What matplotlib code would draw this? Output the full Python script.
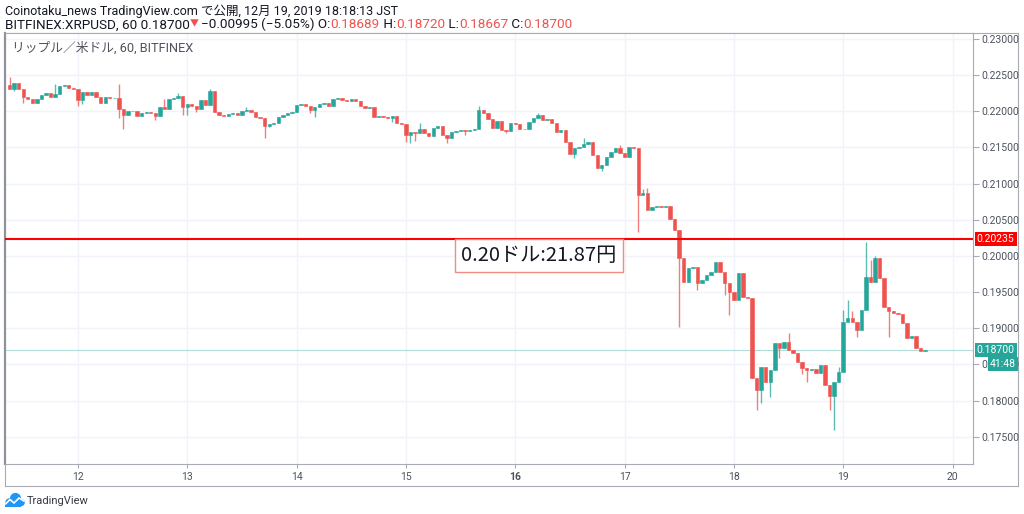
import numpy as np
import matplotlib.pyplot as plt
import matplotlib.transforms as mtransforms
from matplotlib.patches import Circle, Rectangle

plt.rcParams['font.family'] = ['Roboto', 'Noto Sans CJK JP', 'DejaVu Sans']

# BITFINEX XRP/USD, 1h candles from 11 Dec 09:00 to 19 Dec 18:00 (JST)
first_hour = -15            # hours relative to 12 Dec 00:00
first_open = 0.2236
closes = [
    0.2231, 0.2239, 0.2231, 0.2220, 0.2217, 0.2212, 0.2217, 0.2223, 0.2225, 0.2220,
    0.2224, 0.2235, 0.2236, 0.2232, 0.2231, 0.2216, 0.2227, 0.2223, 0.2227, 0.2220,
    0.2212, 0.2220, 0.2218, 0.2219, 0.2203, 0.2195, 0.2200, 0.2201, 0.2194, 0.2198,
    0.2199, 0.2198, 0.2194, 0.2206, 0.2203, 0.2217, 0.2218, 0.2221, 0.2206, 0.2210,
    0.2207, 0.2203, 0.2216, 0.2209, 0.2228, 0.2199, 0.2195, 0.2194, 0.2196, 0.2197,
    0.2195, 0.2200, 0.2202, 0.2199, 0.2192, 0.2191, 0.2180, 0.2182, 0.2184, 0.2192,
    0.2195, 0.2198, 0.2199, 0.2209, 0.2210, 0.2207, 0.2202, 0.2206, 0.2210, 0.2211,
    0.2207, 0.2217, 0.2218, 0.2216, 0.2214, 0.2217, 0.2214, 0.2207, 0.2205, 0.2206,
    0.2192, 0.2193, 0.2192, 0.2191, 0.2193, 0.2184, 0.2182, 0.2167, 0.2171, 0.2170,
    0.2175, 0.2170, 0.2166, 0.2177, 0.2180, 0.2167, 0.2163, 0.2171, 0.2173, 0.2174,
    0.2173, 0.2174, 0.2175, 0.2202, 0.2198, 0.2189, 0.2177, 0.2187, 0.2174, 0.2173,
    0.2184, 0.2182, 0.2176, 0.2175, 0.2185, 0.2191, 0.2195, 0.2188, 0.2189, 0.2184,
    0.2171, 0.2174, 0.2158, 0.2141, 0.2149, 0.2151, 0.2155, 0.2158, 0.2140, 0.2122,
    0.2126, 0.2137, 0.2144, 0.2149, 0.2142, 0.2137, 0.2151, 0.2149, 0.2084, 0.2087,
    0.2063, 0.2068, 0.2069, 0.2068, 0.2069, 0.2051, 0.2036, 0.1997, 0.1964, 0.1983,
    0.1985, 0.1962, 0.1967, 0.1974, 0.1978, 0.1991, 0.1978, 0.1962, 0.1950, 0.1939,
    0.1976, 0.1943, 0.1942, 0.1831, 0.1815, 0.1846, 0.1826, 0.1842, 0.1880, 0.1873,
    0.1881, 0.1870, 0.1866, 0.1853, 0.1845, 0.1842, 0.1844, 0.1838, 0.1849, 0.1821,
    0.1806, 0.1826, 0.1839, 0.1909, 0.1914, 0.1909, 0.1898, 0.1925, 0.1971, 0.1964,
    0.1997, 0.1969, 0.1929, 0.1924, 0.1921, 0.1920, 0.1907, 0.1886, 0.1889, 0.1873,
    0.1869, 0.1870,
]
# wick tips that stick out clearly past the body (candle index -> price)
wick_high = {0: 0.2247, 10: 0.2238, 24: 0.2238, 34: 0.2217, 37: 0.2225, 44: 0.2231,
             52: 0.2206, 90: 0.2184, 103: 0.2207, 116: 0.2198, 126: 0.2163, 134: 0.2153,
             139: 0.2093, 140: 0.2094, 171: 0.1893, 182: 0.1846, 183: 0.1925, 184: 0.1939,
             185: 0.1924, 188: 0.2019, 189: 0.1994, 190: 0.2000}
wick_low = {1: 0.2228, 3: 0.2211, 15: 0.2208, 16: 0.2210, 24: 0.2191, 25: 0.2176,
            32: 0.2188, 38: 0.2195, 39: 0.2195, 41: 0.2199, 56: 0.2163, 57: 0.2178,
            66: 0.2198, 67: 0.2192, 84: 0.2185, 87: 0.2158, 88: 0.2156, 89: 0.2159,
            96: 0.2156, 100: 0.2167, 109: 0.2170, 124: 0.2135, 130: 0.2117, 138: 0.2033,
            147: 0.1902, 151: 0.1953, 157: 0.1946, 158: 0.1918, 164: 0.1787, 165: 0.1797,
            167: 0.1805, 169: 0.1859, 174: 0.1837, 175: 0.1826, 180: 0.1787, 181: 0.1759,
            186: 0.1888, 193: 0.1888}

day_hours = [0, 24, 48, 72, 96, 120, 144, 168, 192]
day_labels = ['12', '13', '14', '15', '16', '17', '18', '19', '20']
price_ticks = [0.175, 0.180, 0.185, 0.190, 0.195, 0.200,
               0.205, 0.210, 0.215, 0.220, 0.225, 0.230]

level_price = 0.20235
level_note = '0.20ドル:21.87円'
last_price = 0.18700
countdown = '41:48'

header_1 = 'Coinotaku_news TradingView.com で公開, 12月 19, 2019 18:18:13 JST'
header_2 = [('BITFINEX:XRPUSD, 60 0.18700', 'ink'), ('▼ ', 'red'),
            ('−0.00995 (−5.05%) O:', 'ink'), ('0.18689', 'red'),
            (' H:', 'ink'), ('0.18720', 'red'), (' L:', 'ink'), ('0.18667', 'red'),
            (' C:', 'ink'), ('0.18700', 'red')]
legend_text = 'リップル／米ドル, 60, BITFINEX'

UP, DOWN = '#26a69a', '#ef5350'
INK, RED = '#131722', '#ef5350'
EDGE, GRID, TICK = '#a8abb3', '#f0f3fa', '#4c525e'

W, H = 1024, 514
fig = plt.figure(figsize=(W / 100, H / 100), dpi=100)


def px_box(l, t, r, b):
    return [l / W, 1 - b / H, (r - l) / W, (b - t) / H]


# outer chart frame (price scale + time scale)
frame = fig.add_axes(px_box(5, 33, 1018, 486))
frame.set_xticks([])
frame.set_yticks([])
for s in frame.spines.values():
    s.set_color(EDGE)

ax = fig.add_axes(px_box(5, 33, 973, 464))
ax.set_xlim(-16.0, 196.5)
ax.set_ylim(0.17122, 0.23083)

# candles
c = np.array(closes)
o = np.r_[first_open, c[:-1]]
hours = first_hour + np.arange(len(c))
hi = np.maximum(o, c)
lo = np.minimum(o, c)
for k, v in wick_high.items():
    hi[k] = max(hi[k], v)
for k, v in wick_low.items():
    lo[k] = min(lo[k], v)
col = np.where(c >= o, UP, DOWN)
ax.vlines(hours, lo, hi, colors=col, lw=1.0, alpha=0.75, zorder=3)
ax.bar(hours, np.abs(c - o), bottom=np.minimum(o, c), width=0.74,
       color=col, edgecolor=col, lw=0.4, zorder=3)

# grid + axes
ax.set_xticks(day_hours)
ax.set_xticklabels(day_labels)
ax.set_yticks(price_ticks)
ax.set_yticklabels([f'{p:.5f}' for p in price_ticks])
ax.grid(True, color=GRID, lw=1)
ax.set_axisbelow(True)
ax.yaxis.tick_right()
ax.tick_params(axis='y', length=4, width=0.8, color=EDGE, labelsize=7.5,
               labelcolor=TICK, pad=2)
ax.tick_params(axis='x', length=3, width=0.8, color=EDGE, labelsize=7.5,
               labelcolor=TICK, pad=3)
ax.get_xticklabels()[4].set_fontweight('bold')
for s in ax.spines.values():
    s.set_color(EDGE)
ax.spines['left'].set_linewidth(1.6)
ax.spines['left'].set_color('#8f929b')

# horizontal levels
ax.axhline(level_price, color='#ff0000', lw=1.5, zorder=4)
ax.axhline(last_price, color=UP, lw=0.8, alpha=0.35, zorder=2)
ax.text(101.2, 0.20012, level_note, ha='center', va='center', fontsize=14.5,
        color='#131722', family=['Noto Sans CJK JP'], zorder=6,
        bbox=dict(boxstyle='square,pad=0.3', fc='white', ec='#f28b82', lw=1))

# price scale tags
tr = mtransforms.blended_transform_factory(ax.transAxes, ax.transData)
tag = dict(ha='left', va='center', color='white', fontsize=7.5, clip_on=False, zorder=20)
ax.text(1.004, level_price, f'{level_price:.5f}', transform=tr,
        bbox=dict(boxstyle='square,pad=0.2', fc='#ff0000', ec='none'), **tag)
ax.text(1.004, last_price, f'{last_price:.5f}', transform=tr,
        bbox=dict(boxstyle='square,pad=0.2', fc=UP, ec='none'), **tag)
ax.annotate(countdown, xy=(1, last_price), xycoords=tr, xytext=(17, -14),
            textcoords='offset pixels',
            bbox=dict(boxstyle='square,pad=0.2', fc=UP, ec='none'), **tag)

# header / legend / logo in pixel coordinates
hdr = fig.add_axes([0, 0, 1, 1])
hdr.axis('off')
hdr.set_xlim(0, W)
hdr.set_ylim(H, 0)

hdr.text(5, 15, header_1, fontsize=9, color=INK, va='baseline', ha='left')
prev = None
for txt, kind in header_2:
    color = RED if kind == 'red' else INK
    small = txt.startswith('▼')
    y = 26 if small else 28.5
    size = 6.5 if small else 9.7
    if prev is None:
        prev = hdr.text(5, y, txt, fontsize=size, color=color, va='baseline', ha='left')
    else:
        prev = hdr.annotate(txt, xy=(1, y), xycoords=(prev, 'data'), fontsize=size,
                            color=color, va='baseline', ha='left')

hdr.text(12, 51.5, legend_text, fontsize=9.2, color='#50535e', va='baseline', ha='left')

# TradingView logo
logo_blue = '#2196f3'
for cx, cy, r in [(9.5, 502.5, 4.2), (15.5, 498.5, 5.6), (21.0, 502.5, 3.8)]:
    hdr.add_patch(Circle((cx, cy), r, color=logo_blue, lw=0))
hdr.add_patch(Rectangle((5.3, 502.5), 15.7, 4.0, color=logo_blue, lw=0))
hdr.plot([5.5, 10, 14, 19, 24], [504, 499.5, 503, 498, 501], color='white', lw=1.2,
         solid_capstyle='round', solid_joinstyle='round')
hdr.text(27, 504, 'TradingView', fontsize=8, color='#363a45', va='baseline', ha='left')

fig.savefig('out.png', dpi=100)
